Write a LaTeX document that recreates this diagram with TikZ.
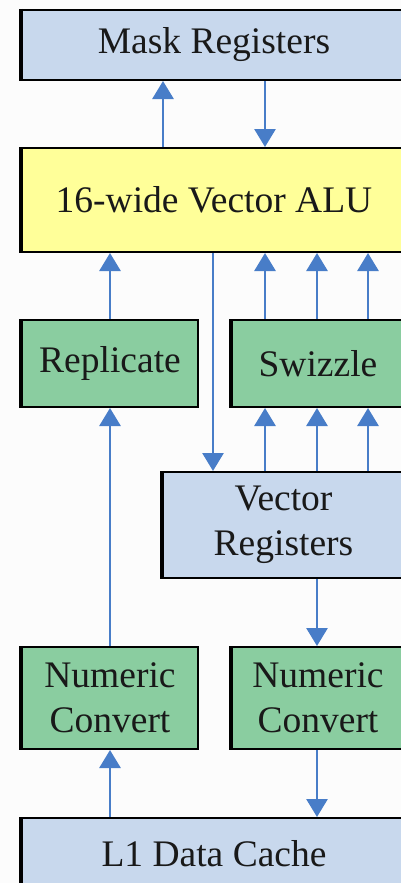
\documentclass[tikz,border=0pt]{standalone}
\usepackage{fontspec}
\setmainfont{Liberation Serif}
\usetikzlibrary{arrows.meta,calc}
\definecolor{regblue}{RGB}{200,216,237}
\definecolor{aluyellow}{RGB}{255,255,153}
\definecolor{unitgreen}{RGB}{138,205,160}
\definecolor{wireblue}{RGB}{72,125,200}
\tikzset{
  unit/.style={draw=black, line width=2pt, inner sep=0pt, align=center,
    font=\fontsize{37.5}{45}\selectfont, text=black!90},
  reg/.style={unit, fill=regblue},
  alu/.style={unit, fill=aluyellow},
  proc/.style={unit, fill=unitgreen},
  wire/.style={draw=wireblue, line width=2.8pt,
    -{Triangle[length=18pt,width=21pt]}},
  edge/.style={line width=4pt, black}
}
\begin{document}
\begin{tikzpicture}[x=1pt,y=-1pt]
  \useasboundingbox (0,0) rectangle (401,883);
  \clip (0,0) rectangle (401,883);
  \fill[white!99!black] (0,0) rectangle (401,883);

  % register files and functional units
  \node[reg,  minimum width=384pt, minimum height=70pt]  (mask) at (214,45)    {Mask Registers};
  \node[alu,  minimum width=384pt, minimum height=104pt] (alu)  at (214,200)   {16-wide Vector ALU};
  \node[proc, minimum width=176pt, minimum height=87pt]  (rep)  at (110,363.5) {Replicate};
  \node[proc, minimum width=172pt, minimum height=87pt]  (swz)  at (318,363.5) {Swizzle};
  \node[reg,  minimum width=241pt, minimum height=106pt] (vreg) at (283.5,525) {Vector\\Registers};
  \node[proc, minimum width=176pt, minimum height=102pt] (nc1)  at (110,698)   {Numeric\\Convert};
  \node[proc, minimum width=172pt, minimum height=102pt] (nc2)  at (318,698)   {Numeric\\Convert};
  \node[reg,  minimum width=384pt, minimum height=72pt]  (l1)   at (214,854)   {L1 Data Cache};

  % heavier left edges
  \foreach \n in {mask,alu,rep,swz,vreg,nc1,nc2,l1}
    \draw[edge] (\n.north west) -- (\n.south west);

  % data paths
  \draw[wire] ([xshift=-51pt]alu.north) -- ([xshift=-51pt]alu.north |- mask.south);
  \draw[wire] ([xshift=51pt]mask.south) -- ([xshift=51pt]mask.south |- alu.north);
  \draw[wire] (rep.north) -- (rep.north |- alu.south);
  \foreach \dx in {-53,-1,50} {
    \draw[wire] ([xshift=\dx pt]swz.north) -- ([xshift=\dx pt]swz.north |- alu.south);
    \draw[wire] ([xshift=\dx pt]swz.south |- vreg.north) -- ([xshift=\dx pt]swz.south);
  }
  \draw[wire] ([xshift=-1pt]alu.south) -- ([xshift=-1pt]alu.south |- vreg.north);
  \draw[wire] (nc1.north) -- (rep.south);
  \draw[wire] ([xshift=-1pt]nc2.north |- vreg.south) -- ([xshift=-1pt]nc2.north);
  \draw[wire] (nc1.south |- l1.north) -- (nc1.south);
  \draw[wire] ([xshift=-1pt]nc2.south) -- ([xshift=-1pt]nc2.south |- l1.north);
\end{tikzpicture}
\end{document}
